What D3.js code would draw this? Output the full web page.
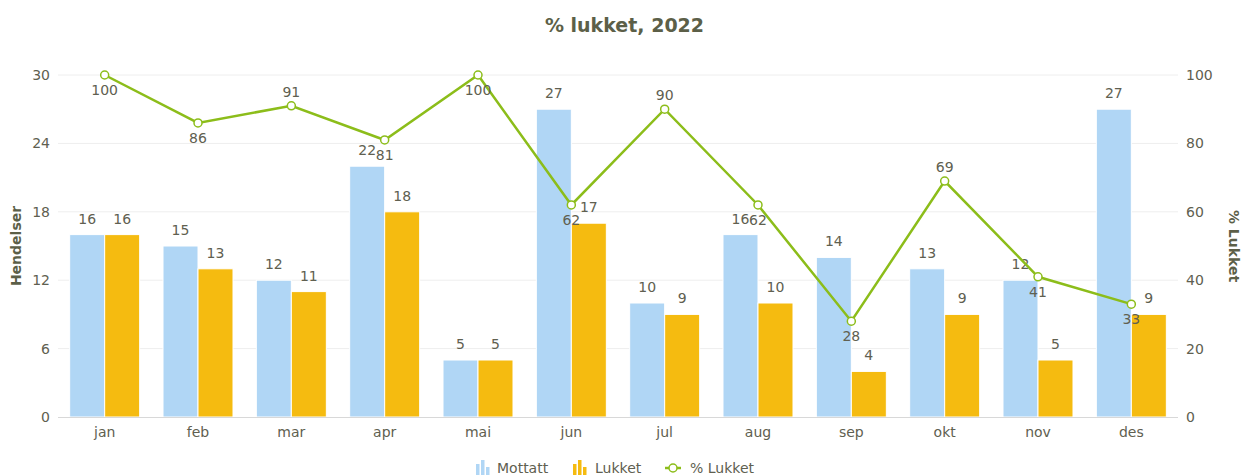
<!DOCTYPE html>
<html>
<head>
<meta charset="utf-8">
<script src="https://cdn.jsdelivr.net/npm/d3@7"></script>
<style>
  body { margin: 0; background: #fff; }
  text { font-family: "DejaVu Sans", Verdana, sans-serif; }
</style>
</head>
<body>
<div id="chart"></div>
<script>
// data
var months = ["jan", "feb", "mar", "apr", "mai", "jun", "jul", "aug", "sep", "okt", "nov", "des"];
var mottatt = [16, 15, 12, 22, 5, 27, 10, 16, 14, 13, 12, 27];
var lukket = [16, 13, 11, 18, 5, 17, 9, 10, 4, 9, 5, 9];
var pctLukket = [100, 86, 91, 81, 100, 62, 90, 62, 28, 69, 41, 33];
var leftTicks = [0, 6, 12, 18, 24, 30];
var rightTicks = [0, 20, 40, 60, 80, 100];

var w = 1245, h = 476;
var plotLeft = 58, plotRight = 1178, plotTop = 75, plotBottom = 417;
var textColor = "#606050";
var blue = "#b0d6f5", yellow = "#f5bb10", green = "#8cbd1a";

var svg = d3.select("#chart").append("svg")
    .attr("width", w)
    .attr("height", h);

var xScale = d3.scaleBand()
    .domain(months)
    .range([plotLeft, plotRight]);

var inner = d3.scaleBand()
    .domain(["m", "l"])
    .range([xScale.bandwidth() * 0.125, xScale.bandwidth() * 0.875]);

var yLeft = d3.scaleLinear().domain([0, 30]).range([plotBottom, plotTop]);
var yRight = d3.scaleLinear().domain([0, 100]).range([plotBottom, plotTop]);

// title
svg.append("text")
    .attr("x", w / 2 + 2)
    .attr("y", 32)
    .attr("text-anchor", "middle")
    .attr("font-size", 19)
    .attr("font-weight", "bold")
    .attr("fill", "#5c5f48")
    .text("% lukket, 2022");

// grid
svg.append("g").selectAll("line")
    .data(leftTicks.slice(1))
    .enter().append("line")
    .attr("x1", plotLeft).attr("x2", plotRight)
    .attr("y1", d => yLeft(d)).attr("y2", d => yLeft(d))
    .attr("stroke", "#eeeeee");

// left axis
var yAxisL = d3.axisLeft(yLeft).tickValues(leftTicks).tickSize(0).tickPadding(8);
var gL = svg.append("g")
    .attr("transform", "translate(" + plotLeft + ",0)")
    .call(yAxisL);
gL.select(".domain").remove();
gL.selectAll("text").attr("font-size", 14).attr("fill", textColor)
    .attr("font-family", "DejaVu Sans, sans-serif");

// right axis
var yAxisR = d3.axisRight(yRight).tickValues(rightTicks).tickSize(0).tickPadding(8);
var gR = svg.append("g")
    .attr("transform", "translate(" + plotRight + ",0)")
    .call(yAxisR);
gR.select(".domain").remove();
gR.selectAll("text").attr("font-size", 14).attr("fill", textColor)
    .attr("font-family", "DejaVu Sans, sans-serif");

// bars
var groups = svg.append("g").selectAll("g")
    .data(months)
    .enter().append("g")
    .attr("transform", d => "translate(" + xScale(d) + ",0)");

groups.append("rect")
    .attr("x", inner("m"))
    .attr("y", (d, i) => yLeft(mottatt[i]))
    .attr("width", inner.bandwidth())
    .attr("height", (d, i) => plotBottom - yLeft(mottatt[i]))
    .attr("fill", blue)
    .attr("stroke", "#fff");

groups.append("rect")
    .attr("x", inner("l"))
    .attr("y", (d, i) => yLeft(lukket[i]))
    .attr("width", inner.bandwidth())
    .attr("height", (d, i) => plotBottom - yLeft(lukket[i]))
    .attr("fill", yellow)
    .attr("stroke", "#fff");

// x axis
svg.append("line")
    .attr("x1", plotLeft).attr("x2", plotRight)
    .attr("y1", plotBottom + 0.5).attr("y2", plotBottom + 0.5)
    .attr("stroke", "#d8d8d8");

var xAxis = d3.axisBottom(xScale).tickSize(0).tickPadding(10);
var gX = svg.append("g")
    .attr("transform", "translate(0," + plotBottom + ")")
    .call(xAxis);
gX.select(".domain").remove();
gX.selectAll("text").attr("font-size", 14).attr("fill", textColor)
    .attr("font-family", "DejaVu Sans, sans-serif");

// bar labels
groups.append("text")
    .attr("x", inner("m") + inner.bandwidth() / 2)
    .attr("y", (d, i) => yLeft(mottatt[i]) - 11)
    .attr("text-anchor", "middle")
    .attr("font-size", 14)
    .attr("fill", textColor)
    .text((d, i) => mottatt[i]);

groups.append("text")
    .attr("x", inner("l") + inner.bandwidth() / 2)
    .attr("y", (d, i) => yLeft(lukket[i]) - 11)
    .attr("text-anchor", "middle")
    .attr("font-size", 14)
    .attr("fill", textColor)
    .text((d, i) => lukket[i]);

// line
var cx = d => xScale(d) + xScale.bandwidth() / 2;
var line = d3.line()
    .x((d, i) => cx(months[i]))
    .y(d => yRight(d));

svg.append("path")
    .datum(pctLukket)
    .attr("d", line)
    .attr("fill", "none")
    .attr("stroke", green)
    .attr("stroke-width", 2.5);

svg.append("g").selectAll("circle")
    .data(pctLukket)
    .enter().append("circle")
    .attr("cx", (d, i) => cx(months[i]))
    .attr("cy", d => yRight(d))
    .attr("r", 4)
    .attr("fill", "#fff")
    .attr("stroke", green)
    .attr("stroke-width", 1.5);

// label above on local peaks (unless at the top), else below
function above(i) {
    var v = pctLukket[i];
    if (v >= 100) return false;
    var prev = i > 0 ? pctLukket[i - 1] : -Infinity;
    var next = i < pctLukket.length - 1 ? pctLukket[i + 1] : -Infinity;
    return v > prev && v > next;
}

svg.append("g").selectAll("text")
    .data(pctLukket)
    .enter().append("text")
    .attr("x", (d, i) => cx(months[i]))
    .attr("y", (d, i) => yRight(d) + (above(i) ? -9 : 20))
    .attr("text-anchor", "middle")
    .attr("font-size", 14)
    .attr("fill", textColor)
    .text(d => d);

// axis titles
svg.append("text")
    .attr("transform", "translate(21," + (plotTop + plotBottom) / 2 + ") rotate(-90)")
    .attr("text-anchor", "middle")
    .attr("font-size", 14)
    .attr("font-weight", "bold")
    .attr("fill", "#5c5f48")
    .text("Hendelser");

svg.append("text")
    .attr("transform", "translate(1229," + (plotTop + plotBottom) / 2 + ") rotate(90)")
    .attr("text-anchor", "middle")
    .attr("font-size", 14)
    .attr("font-weight", "bold")
    .attr("fill", "#5c5f48")
    .text("% Lukket");

// legend
var legend = svg.append("g").attr("transform", "translate(0,467)");

function barIcon(x, color) {
    var hs = [11, 15, 8];
    hs.forEach(function (hh, k) {
        legend.append("rect")
            .attr("x", x + k * 5)
            .attr("y", 8 - hh)
            .attr("width", 3.5)
            .attr("height", hh)
            .attr("fill", color);
    });
}

barIcon(476, blue);
legend.append("text").attr("x", 497).attr("y", 6).attr("font-size", 14)
    .attr("fill", textColor).text("Mottatt");

barIcon(573, yellow);
legend.append("text").attr("x", 595).attr("y", 6).attr("font-size", 14)
    .attr("fill", textColor).text("Lukket");

legend.append("line").attr("x1", 665).attr("x2", 681).attr("y1", 1).attr("y2", 1)
    .attr("stroke", green).attr("stroke-width", 2.5);
legend.append("circle").attr("cx", 673).attr("cy", 1).attr("r", 4)
    .attr("fill", "#fff").attr("stroke", green).attr("stroke-width", 1.5);
legend.append("text").attr("x", 690).attr("y", 6).attr("font-size", 14)
    .attr("fill", textColor).text("% Lukket");
</script>
</body>
</html>
